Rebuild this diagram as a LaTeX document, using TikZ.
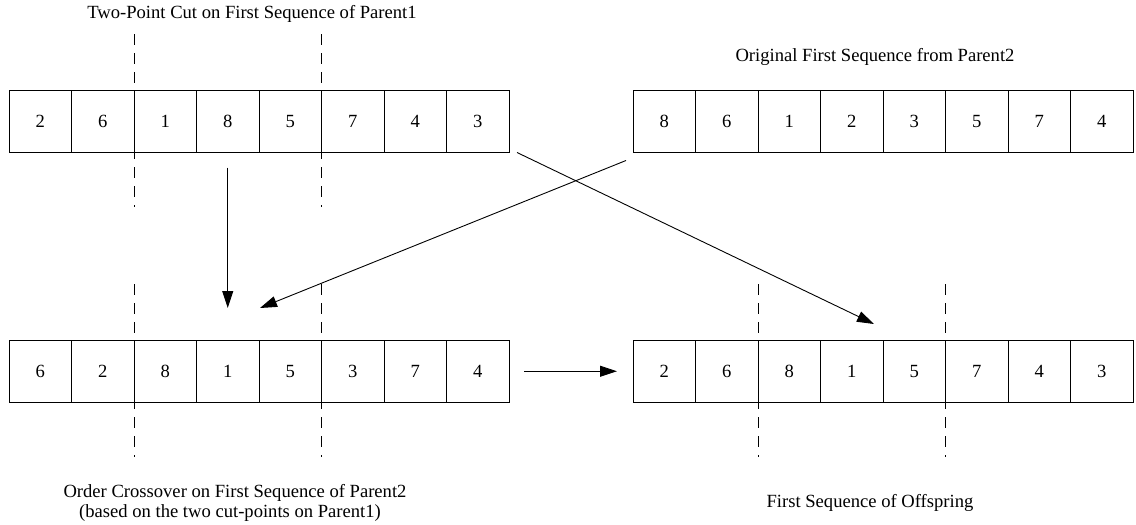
\documentclass[tikz,border=0pt]{standalone}
\usepackage{fontspec}
\setmainfont{Liberation Serif}
\usetikzlibrary{arrows.meta}
\begin{document}
\begin{tikzpicture}[x=1pt,y=-1pt,
  txt/.style={font=\fontsize{18.6}{20}\selectfont},
  cell/.style={txt, draw=black, line width=0.9pt, minimum width=62.5pt,
    minimum height=62.5pt, inner sep=0pt, outer sep=0pt, anchor=north west},
  cut/.style={draw=black, line width=1pt, dash pattern=on 11pt off 8pt},
  arr/.style={draw=black, line width=0.9pt, -{Triangle[length=17pt,width=11pt]}},
  lbl/.style={txt, inner sep=0pt, anchor=base}]
\useasboundingbox (0,0) rectangle (1136,525);

% the four sequences, one cell per gene
\foreach \v [count=\i] in {2,6,1,8,5,7,4,3}
  \node[cell] (tl\i) at ({9+62.5*(\i-1)},90) {\v};
\foreach \v [count=\i] in {8,6,1,2,3,5,7,4}
  \node[cell] (tr\i) at ({633+62.5*(\i-1)},90) {\v};
\foreach \v [count=\i] in {6,2,8,1,5,3,7,4}
  \node[cell] (bl\i) at ({9+62.5*(\i-1)},340) {\v};
\foreach \v [count=\i] in {2,6,8,1,5,7,4,3}
  \node[cell] (br\i) at ({633+62.5*(\i-1)},340) {\v};

% cut points
\foreach \s in {tl,bl,br} {
  \draw[cut] ([shift={(0,-56)}]\s2.north east) -- ([shift={(0,54)}]\s2.south east);
  \draw[cut] ([shift={(0,-56)}]\s5.north east) -- ([shift={(0,54)}]\s5.south east);
}

% flow between the sequences
\draw[arr] ([shift={(0,15)}]tl4.south) -- ([shift={(0,-32)}]bl4.north);
\draw[arr] ([shift={(-7,8)}]tr1.south west) -- ([shift={(1,-32)}]bl4.north east);
\draw[arr] ([shift={(8,0)}]tl8.south east) -- ([shift={(-9,-16)}]br4.north east);
\draw[arr] ([shift={(15,0)}]bl8.east) -- ([shift={(-16,0)}]br1.west);

% captions
\node[lbl] (cutTitle) at (252,18.5) {Two-Point Cut on First Sequence of Parent1};
\node[lbl] (origTitle) at (875,61) {Original First Sequence from Parent2};
\node[lbl] (orderA) at (235,497) {Order Crossover on First Sequence of Parent2};
\node[lbl] (orderB) at (230,517) {(based on the two cut-points on Parent1)};
\node[lbl] (offTitle) at (870,507) {First Sequence of Offspring};
\end{tikzpicture}
\end{document}
